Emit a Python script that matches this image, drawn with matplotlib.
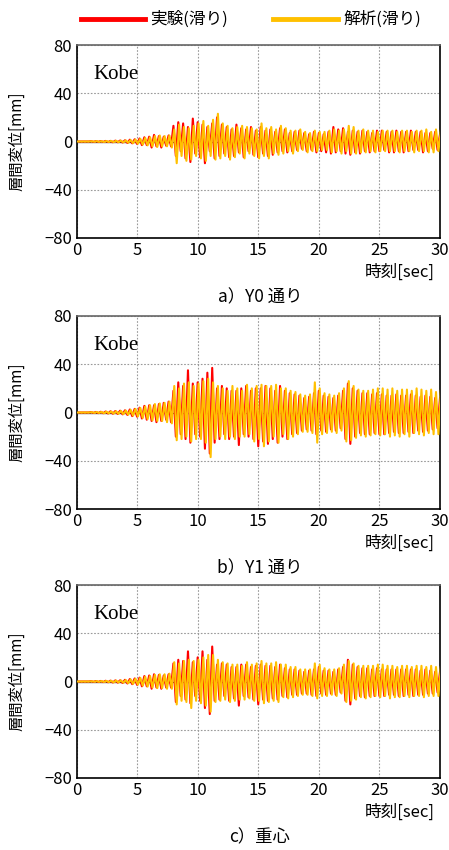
import numpy as np
import matplotlib
matplotlib.use('Agg')
import matplotlib.pyplot as plt

plt.rcParams['font.family'] = ['Noto Sans CJK JP', 'DejaVu Sans']

DT = 0.2       # spacing of the read-off extrema [sec]
ANA_T0 = 0.07  # analysis extrema lag slightly behind the test ones [sec]

# Y0 line: experiment (slip) / analysis (slip), one row per second
y0_exp = [
    0, 0, 0, 0, 0,
    0, 0.3, -0.3, 0.3, -0.3,
    0.4, -0.4, 0.5, -0.5, 0.5,
    -0.6, 0.7, -0.6, 0.8, -0.8,
    1.0, -1.2, 1.5, -1.5, 1.8,
    -2.0, 2.5, -3, 3.5, -3,
    4, -5, 5.5, -4, 4.5,
    -5, 4, -3.5, 5, -4,
    13, -12, 16, -8, 15,
    -14, 12, -17, 19, -10,
    16, -13, 14, -18, 12,
    -8, 15, -14, 20, -12,
    14, -10, 12, -13, 10,
    -12, 14, -9, 11, -13,
    10, -8, 12, -11, 9,
    -13, 12, -10, 9, -12,
    10, -11, 8, -9, 11,
    -8, 10, -9, 7, -8,
    8, -7, 9, -6, 7,
    -8, 6, -7, 8, -9,
    7, -8, 6, -9, 8,
    -10, 12, -9, 10, -8,
    11, -10, 8, -11, 9,
    -9, 8, -10, 9, -8,
    8, -9, 7, -8, 9,
    -8, 9, -7, 8, -9,
    8, -9, 9, -8, 8,
    -9, 8, -8, 9, -7,
    8, -7, 8, -9, 7,
    -8, 7, -6, 8, -7,
    6,
]
y0_ana = [
    0, 0, 0, 0, 0,
    0, 0.2, -0.2, 0.3, -0.3,
    0.3, -0.4, 0.4, -0.4, 0.5,
    -0.5, 0.6, -0.6, 0.7, -0.7,
    0.9, -1.0, 1.2, -1.4, 1.6,
    -1.8, 2.2, -2.6, 3, -3.2,
    3.5, -4, 4.5, -4.5, 5,
    -4, 4.5, -4, 5, -5,
    10, -18, 14, -12, 12,
    -16, 11, -15, 13, -12,
    15, -14, 17, -16, 13,
    -12, 18, -15, 23, -14,
    15, -12, 13, -15, 11,
    -13, 12, -10, 13, -14,
    12, -10, 11, -12, 10,
    -14, 15, -12, 11, -14,
    12, -10, 10, -11, 13,
    -10, 11, -8, 9, -10,
    9, -8, 10, -7, 8,
    -9, 7, -8, 9, -8,
    8, -7, 8, -7, 9,
    -9, 10, -8, 9, -10,
    10, -8, 13, -10, 12,
    -10, 9, -9, 10, -9,
    9, -8, 9, -9, 8,
    -8, 9, -8, 9, -8,
    9, -8, 8, -9, 9,
    -8, 9, -8, 8, -9,
    9, -8, 9, -8, 10,
    -9, 8, -9, 10, -8,
    9,
]

# Y1 line
y1_exp = [
    0, 0, 0, 0, 0,
    0, 0.4, -0.4, 0.5, -0.5,
    0.6, -0.6, 0.8, -0.8, 1.0,
    -1.0, 1.2, -1.2, 1.5, -1.5,
    1.8, -2, 2.5, -3, 3,
    -3.5, 4, -5, 5.5, -6,
    6, -7, 6, -8, 7,
    -7, 8, -6, 9, -8,
    18, -20, 25, -18, 22,
    -22, 35, -25, 24, -18,
    25, -20, 28, -30, 33,
    -34, 37, -25, 20, -22,
    22, -18, 20, -22, 18,
    -20, 18, -27, 20, -18,
    22, -20, 18, -22, 20,
    -28, 20, -24, 22, -26,
    20, -22, 18, -25, 22,
    -20, 18, -22, 16, -18,
    15, -17, 14, -15, 12,
    -14, 13, -15, 16, -18,
    18, -15, 14, -16, 13,
    -14, 12, -15, 14, -13,
    18, -22, 24, -26, 20,
    -20, 18, -17, 16, -18,
    16, -18, 15, -17, 16,
    -18, 15, -18, 14, -17,
    14, -16, 15, -17, 14,
    -17, 14, -16, 15, -17,
    14, -15, 13, -16, 14,
    -15, 13, -14, 12, -13,
    12,
]
y1_ana = [
    0, 0, 0, 0, 0,
    0, 0.3, -0.3, 0.4, -0.4,
    0.5, -0.6, 0.7, -0.7, 0.8,
    -0.9, 1.0, -1.1, 1.3, -1.4,
    1.6, -1.8, 2.2, -2.6, 3,
    -3.2, 3.8, -4.5, 5, -5.5,
    6, -6.5, 7, -7, 7.5,
    -7, 8, -8, 9, -9,
    22, -23, 20, -22, 24,
    -20, 25, -24, 22, -22,
    24, -22, 26, -25, 28,
    -37, 25, -22, 22, -20,
    20, -22, 18, -20, 22,
    -22, 20, -20, 18, -20,
    23, -18, 20, -24, 22,
    -22, 23, -28, 22, -24,
    22, -20, 23, -25, 20,
    -18, 20, -22, 18, -20,
    17, -18, 15, -16, 14,
    -16, 15, -17, 25, -25,
    20, -18, 16, -17, 15,
    -16, 14, -17, 16, -15,
    20, -24, 26, -23, 22,
    -21, 19, -19, 18, -20,
    18, -19, 19, -18, 20,
    -19, 20, -18, 19, -20,
    20, -19, 18, -20, 19,
    -18, 19, -20, 18, -17,
    20, -18, 19, -19, 18,
    -17, 19, -18, 17, -18,
    18,
]

# centre of gravity
cg_exp = [
    0, 0, 0, 0, 0,
    0, 0.3, -0.3, 0.4, -0.4,
    0.5, -0.5, 0.6, -0.6, 0.7,
    -0.8, 0.9, -0.9, 1.0, -1.2,
    1.4, -1.6, 2.0, -2.2, 2.5,
    -2.8, 3.2, -4, 4.5, -4,
    5, -6, 6, -5, 5.5,
    -6, 5, -5, 6, -5,
    15, -17, 18, -12, 17,
    -15, 25, -18, 16, -12,
    20, -16, 25, -22, 18,
    -27, 29, -16, 14, -15,
    15, -12, 14, -16, 12,
    -14, 12, -20, 14, -12,
    14, -13, 12, -15, 13,
    -19, 14, -15, 13, -16,
    13, -14, 12, -15, 14,
    -12, 11, -13, 10, -11,
    10, -11, 9, -10, 8,
    -10, 9, -11, 10, -12,
    12, -10, 9, -11, 9,
    -10, 8, -11, 10, -9,
    12, -16, 18, -19, 14,
    -14, 12, -12, 11, -13,
    11, -12, 10, -12, 11,
    -12, 10, -12, 10, -11,
    10, -11, 10, -12, 10,
    -12, 10, -11, 10, -12,
    10, -11, 9, -11, 10,
    -10, 9, -10, 8, -9,
    8,
]
cg_ana = [
    0, 0, 0, 0, 0,
    0, 0.2, -0.2, 0.3, -0.3,
    0.4, -0.4, 0.5, -0.5, 0.6,
    -0.7, 0.8, -0.8, 0.9, -1.0,
    1.2, -1.4, 1.7, -2.0, 2.3,
    -2.6, 3.0, -3.5, 4, -4.2,
    4.5, -5, 5.5, -5.5, 6,
    -5.5, 6, -6, 6.5, -6,
    16, -19, 15, -16, 17,
    -17, 18, -22, 17, -16,
    18, -18, 20, -20, 22,
    -25, 22, -17, 18, -16,
    16, -15, 15, -17, 14,
    -16, 14, -15, 13, -15,
    16, -14, 14, -16, 15,
    -16, 17, -18, 15, -17,
    15, -16, 16, -17, 14,
    -13, 14, -14, 12, -13,
    12, -12, 10, -11, 10,
    -11, 10, -12, 15, -14,
    14, -12, 11, -12, 10,
    -11, 10, -12, 11, -10,
    14, -17, 17, -16, 15,
    -15, 13, -13, 13, -14,
    13, -13, 13, -12, 14,
    -13, 14, -12, 13, -14,
    13, -13, 12, -13, 13,
    -12, 13, -13, 12, -12,
    13, -12, 13, -13, 12,
    -12, 13, -12, 12, -12,
    12,
]

panels = [
    (y0_exp, y0_ana, 'a）Y0 通り'),
    (y1_exp, y1_ana, 'b）Y1 通り'),
    (cg_exp, cg_ana, 'c）重心'),
]
legend_labels = ['実験(滑り)', '解析(滑り)']
colors = ['#FF0000', '#FFC000']
xticks = [0, 5, 10, 15, 20, 25, 30]
yticks = [-80, -40, 0, 40, 80]

W, H = 449, 850
fig = plt.figure(figsize=(W / 100, H / 100), dpi=100)

tops = [45, 316, 585]
ax_h = 193
left, right = 76.5, 440

for (exp, ana, caption), top in zip(panels, tops):
    ax = fig.add_axes([left / W, 1 - (top + ax_h) / H, (right - left) / W, ax_h / H])
    t_exp = np.arange(len(exp)) * DT
    t_ana = np.arange(len(ana)) * DT + ANA_T0
    ax.axhline(0, color='#222222', lw=0.9, zorder=1)
    ax.plot(t_exp, exp, color=colors[0], lw=1.5, zorder=2)
    ax.plot(t_ana, ana, color=colors[1], lw=1.5, zorder=3)
    ax.set_xlim(0, 30)
    ax.set_ylim(-80, 80)
    ax.set_xticks(xticks)
    ax.set_yticks(yticks)
    ax.set_yticklabels([str(v).replace('-', '−') for v in yticks])
    ax.tick_params(length=0, labelsize=12, pad=3)
    ax.grid(True, linestyle=(0, (1.5, 1.5)), color='#999999', lw=0.8)
    for s in ['left', 'bottom', 'right']:
        ax.spines[s].set_color('black')
        ax.spines[s].set_linewidth(1.2)
    ax.spines['top'].set_color('#666666')
    ax.spines['top'].set_linewidth(1.2)
    for lab in ax.get_xticklabels():
        lab.set_clip_on(False)
    ax.set_ylabel('層間変位[mm]', fontsize=11, labelpad=14)
    ax.text(0.047, 0.845, 'Kobe', transform=ax.transAxes, fontsize=15,
            family='Liberation Serif', va='center', ha='left')
    fig.text(435 / W, 1 - (top + ax_h + 34) / H, '時刻[sec]', fontsize=12,
             ha='right', va='center')
    fig.text(260 / W, 1 - (top + ax_h + 59) / H, caption, fontsize=12.5,
             ha='center', va='center')

# legend drawn as lines + text at the top
legend_x = [(81, 145), (273, 338)]
for (x0, x1), lab, c in zip(legend_x, legend_labels, colors):
    fig.add_artist(plt.Line2D([x0 / W, x1 / W], [1 - 19 / H, 1 - 19 / H],
                              color=c, lw=3.5, transform=fig.transFigure))
    fig.text((x1 + 5) / W, 1 - 19 / H, lab, fontsize=12, ha='left', va='center')

fig.savefig('out.png', dpi=100)
